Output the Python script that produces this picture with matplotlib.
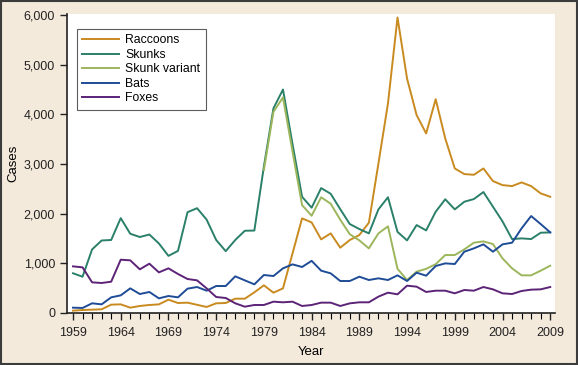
import numpy as np
import matplotlib
matplotlib.use('Agg')
from matplotlib import pyplot as plt
from matplotlib.patches import Rectangle
from matplotlib.ticker import FuncFormatter, MultipleLocator

plt.rcParams['font.family'] = ['Liberation Sans', 'DejaVu Sans']

years = list(range(1959, 2010))

raccoons = [47, 60, 67, 74, 168, 174, 107, 141, 161, 174,
            268, 201, 208, 165, 121, 195, 201, 288, 288, 416,
            557, 409, 496, 1200, 1905, 1824, 1482, 1603, 1315, 1469,
            1570, 1818, 3010, 4220, 5950, 4720, 3985, 3615, 4305, 3515,
            2910, 2797, 2783, 2910, 2656, 2575, 2555, 2629, 2555, 2408,
            2340]
skunks = [800, 730, 1280, 1460, 1470, 1910, 1595, 1530, 1580, 1400,
          1150, 1250, 2030, 2110, 1880, 1470, 1245, 1470, 1656, 1660,
          2950, 4120, 4500, 3400, 2340, 2120, 2515, 2400, 2090, 1791,
          1690, 1603, 2086, 2330, 1633, 1462, 1770, 1663, 2039, 2290,
          2086, 2240, 2294, 2435, 2140, 1844, 1489, 1502, 1489, 1616,
          1623]
# skunk variant series starts in 1979
variant_years = list(range(1979, 2010))
skunk_variant = [2880, 4050, 4340, 3250, 2173, 1958, 2330, 2200, 1878, 1586,
                 1462, 1301, 1603, 1745, 889, 664, 832, 889, 983, 1167,
                 1167, 1281, 1415, 1442, 1388, 1100, 899, 758, 758, 852,
                 952]
bats = [107, 101, 195, 174, 315, 355, 496, 382, 423, 295,
        342, 315, 490, 523, 449, 543, 543, 738, 657, 577,
        765, 744, 899, 979, 926, 1050, 852, 798, 644, 644,
        731, 664, 698, 664, 758, 644, 812, 751, 946, 999,
        986, 1234, 1301, 1382, 1234, 1382, 1415, 1704, 1952, 1791,
        1623]
foxes = [939, 919, 617, 604, 630, 1073, 1060, 879, 993, 818,
         899, 785, 684, 657, 496, 322, 302, 195, 127, 161,
         161, 228, 215, 228, 141, 161, 208, 208, 141, 194,
         215, 215, 329, 409, 376, 550, 530, 423, 449, 449,
         396, 463, 449, 523, 476, 396, 382, 443, 470, 476,
         523]

fig = plt.figure(figsize=(5.78, 3.65), dpi=100)
fig.patch.set_facecolor('#f4eadb')
fig.patches.append(Rectangle((0.002, 0.003), 0.996, 0.994, transform=fig.transFigure,
                             fill=False, edgecolor='#3c3c3c', linewidth=1.5))

ax = fig.add_axes([0.1159, 0.1425, 0.8443, 0.8191])
ax.set_facecolor('white')

lw = 1.4
ax.plot(years, raccoons, color='#c98a1f', lw=lw, label='Raccoons')
ax.plot(years, skunks, color='#2a8069', lw=lw, label='Skunks')
ax.plot(variant_years, skunk_variant, color='#9cb65c', lw=lw, label='Skunk variant')
ax.plot(years, bats, color='#1f4c96', lw=lw, label='Bats')
ax.plot(years, foxes, color='#5c2377', lw=lw, label='Foxes')

ax.set_xlim(1958.37, 2009.5)
ax.set_ylim(0, 6020)
ax.set_xticks(list(range(1959, 2010, 5)))
ax.xaxis.set_minor_locator(MultipleLocator(1))
ax.set_yticks(list(range(0, 6001, 1000)))
ax.yaxis.set_major_formatter(FuncFormatter(lambda v, p: f'{int(v):,}'))

for s in ['top', 'right']:
    ax.spines[s].set_visible(False)
for s in ['left', 'bottom']:
    ax.spines[s].set_linewidth(1.2)
    ax.spines[s].set_color('#222222')

ax.tick_params(axis='both', which='major', direction='out', length=5, width=1,
               labelsize=9, colors='#222222')
ax.tick_params(axis='x', which='minor', direction='out', length=4, width=0.8)
ax.tick_params(axis='x', which='major', length=5, pad=5)

ax.set_xlabel('Year', fontsize=9.5, labelpad=5)
ax.set_ylabel('Cases', fontsize=9.5, labelpad=3)

leg = ax.legend(loc='upper left', bbox_to_anchor=(0.02, 0.95), fontsize=8.8, frameon=True,
                fancybox=False, edgecolor='#333333', handlelength=3.0, handletextpad=0.5,
                labelspacing=0.2, borderpad=0.45, borderaxespad=0)
leg.get_frame().set_linewidth(0.8)

plt.savefig('out.png', dpi=100, facecolor=fig.get_facecolor())
